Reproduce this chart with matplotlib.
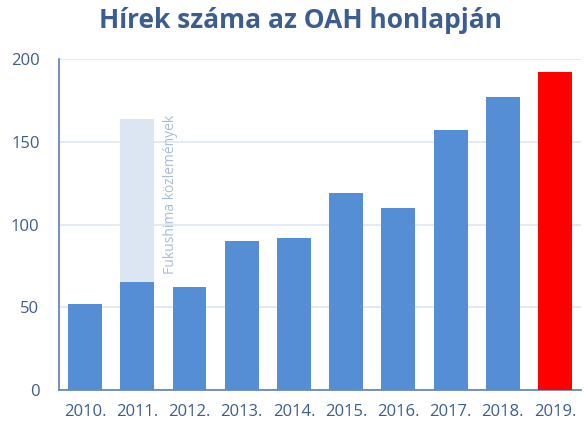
import matplotlib.pyplot as plt

years = ["2010.", "2011.", "2012.", "2013.", "2014.", "2015.", "2016.", "2017.", "2018.", "2019."]
news = [52, 65, 62, 90, 92, 119, 110, 157, 177, 192]
fukushima_total = 164  # 2011 incl. Fukushima releases
yticks = [0, 50, 100, 150, 200]

blue = "#558ed5"
text_col = "#3b5d8f"

plt.rcParams["font.family"] = ["Open Sans", "DejaVu Sans"]

fig = plt.figure(figsize=(5.84, 4.26), dpi=100)
ax = fig.add_axes([0.101, 0.0845, 0.894, 0.777])

x = list(range(len(years)))
colors = [blue] * (len(years) - 1) + ["#ff0000"]

ax.bar(1, fukushima_total, width=0.65, color="#dce6f2", zorder=2)
ax.bar(x, news, width=0.65, color=colors, zorder=3)
ax.text(1.63, 70, "Fukushima közlemények", rotation=90, ha="center", va="bottom",
        color="#a9bcd8", fontsize=10)

ax.set_xlim(-0.5, 9.5)
ax.set_ylim(0, 200)
ax.set_yticks(yticks)
ax.set_xticks(x)
ax.set_xticklabels(years)
ax.grid(axis="y", color="#dfe6f1", linewidth=1.2, zorder=0)
ax.tick_params(length=0, colors=text_col, labelsize=12)
ax.tick_params(axis="y", pad=14)
ax.tick_params(axis="x", pad=10)
for s in ["top", "right"]:
    ax.spines[s].set_visible(False)
for s in ["left", "bottom"]:
    ax.spines[s].set_color("#5a7fb5")
    ax.spines[s].set_linewidth(1.2)

fig.text(0.515, 0.953, "Hírek száma az OAH honlapján", ha="center", va="center",
         fontsize=19, fontweight="bold", color=text_col)

fig.savefig("out.png", dpi=100)
